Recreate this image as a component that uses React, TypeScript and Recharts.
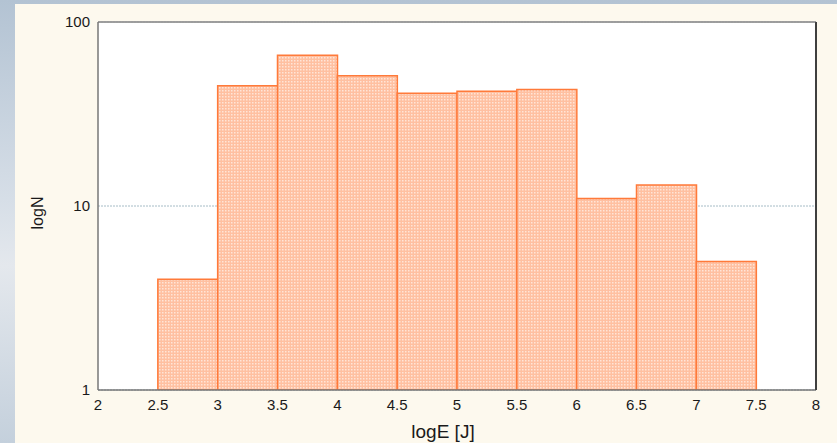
import React from 'react';
import {
  ComposedChart,
  Bar,
  XAxis,
  YAxis,
  CartesianGrid,
  ReferenceLine,
  Label,
} from 'recharts';

// Histogram bins (lower edge of each 0.5-wide bin of logE)
const binStarts = [2, 2.5, 3, 3.5, 4, 4.5, 5, 5.5, 6, 6.5, 7, 7.5];
const BIN_WIDTH = 0.5;
// Event counts per bin (null = empty bin)
const counts: (number | null)[] = [null, 4, 45, 66, 51, 41, 42, 43, 11, 13, 5, null];

const xTicks = [2, 2.5, 3, 3.5, 4, 4.5, 5, 5.5, 6, 6.5, 7, 7.5, 8];
const yTicks = [1, 10, 100];
// minor marks along the top frame
const topTicks = [2.42, 2.84, 3.25, 3.67, 4.08, 4.5, 4.92, 5.33, 5.75, 6.17, 6.58, 7.0, 7.41, 7.8];
// minor marks along the right frame
const rightTicks = [5.5, 30];

// each bar sits on the centre of its bin
const data = binStarts.map((start, i) => ({ mid: start + BIN_WIDTH / 2, count: counts[i] }));

const FONT = 'Arial, "Liberation Sans", Helvetica, sans-serif';
const TEXT = '#1a1a1a';

const XTick = ({ x, y, payload }: any) => (
  <text x={x} y={y + 20} textAnchor="middle" fill={TEXT} fontSize={15} fontFamily={FONT}>
    {payload.value}
  </text>
);

const YTick = ({ x, y, payload }: any) => (
  <text x={x} y={y + 5} textAnchor="end" fill={TEXT} fontSize={15} fontFamily={FONT}>
    {payload.value}
  </text>
);

export default function App() {
  return (
    <div
      style={{
        position: 'absolute',
        left: 0,
        top: 0,
        width: 837,
        height: 443,
        overflow: 'hidden',
        background: 'linear-gradient(180deg, #b3c3d3 0%, #d6dee7 45%, #e4e8ed 60%, #c4d0dc 100%)',
      }}
    >
      <div
        style={{
          position: 'absolute',
          left: 15,
          top: 4,
          width: 822,
          height: 439,
          background: '#fdf9ee',
        }}
      />
      <div style={{ position: 'absolute', left: 0, top: 0 }}>
        <ComposedChart
          width={837}
          height={443}
          data={data}
          margin={{ top: 22, right: 21, bottom: 0, left: 38 }}
          barCategoryGap={0}
          barGap={0}
        >
          <defs>
            <pattern id="dotFill" width="3" height="3" patternUnits="userSpaceOnUse">
              <rect width="3" height="3" fill="#ffc0a1" />
              <rect width="1.5" height="1.5" fill="#ffe5d7" />
            </pattern>
          </defs>
          <CartesianGrid
            vertical={false}
            fill="#ffffff"
            stroke="#a6bcc6"
            strokeDasharray="2 1"
            strokeWidth={1}
          />
          <XAxis
            dataKey="mid"
            type="number"
            domain={[2, 8]}
            ticks={xTicks}
            allowDataOverflow
            height={53}
            tickLine={false}
            tickSize={0}
            tickMargin={0}
            axisLine={{ stroke: '#777777', strokeWidth: 1.5 }}
            tick={<XTick />}
          >
            <Label
              value="logE [J]"
              position="insideBottom"
              offset={5}
              dx={-14}
              style={{ fill: TEXT, fontSize: 19, fontFamily: FONT }}
            />
          </XAxis>
          <XAxis
            xAxisId="top"
            dataKey="mid"
            orientation="top"
            type="number"
            domain={[2, 8]}
            ticks={topTicks}
            allowDataOverflow
            height={1}
            mirror
            tick={false}
            tickSize={3}
            tickLine={{ stroke: '#555555' }}
            axisLine={{ stroke: '#999999', strokeWidth: 1.5 }}
          />
          <YAxis
            scale="log"
            domain={[1, 100]}
            ticks={yTicks}
            allowDataOverflow
            width={60}
            tickLine={false}
            tickSize={0}
            tickMargin={8}
            axisLine={{ stroke: '#777777', strokeWidth: 1.5 }}
            tick={<YTick />}
          >
            <Label
              content={({ viewBox }: any) => (
                <text
                  x={viewBox.x - 1}
                  y={213}
                  transform={`rotate(-90 ${viewBox.x - 1} 213)`}
                  textAnchor="middle"
                  dominantBaseline="central"
                  fill={TEXT}
                  fontSize={16}
                  fontFamily={FONT}
                >
                  logN
                </text>
              )}
            />
          </YAxis>
          <YAxis
            yAxisId="right"
            dataKey="count"
            orientation="right"
            scale="log"
            domain={[1, 100]}
            ticks={rightTicks}
            allowDataOverflow
            width={1}
            mirror
            tick={false}
            tickSize={3}
            tickLine={{ stroke: '#555555' }}
            axisLine={{ stroke: '#333333', strokeWidth: 1.5 }}
          />
          <ReferenceLine y={100} stroke="#999999" strokeWidth={1.5} />
          <ReferenceLine x={8} stroke="#333333" strokeWidth={1.5} />
          <Bar
            dataKey="count"
            fill="url(#dotFill)"
            stroke="#ff7a3a"
            strokeWidth={1.5}
            isAnimationActive={false}
          />
        </ComposedChart>
      </div>
    </div>
  );
}
